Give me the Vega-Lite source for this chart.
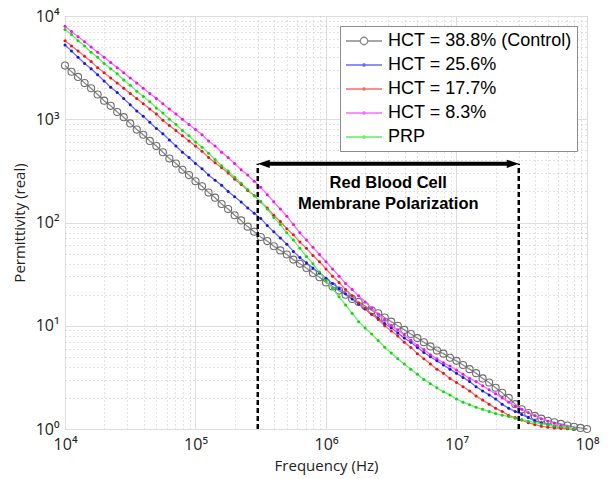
{
"$schema": "https://vega.github.io/schema/vega-lite/v6.json",
"width": 522, "height": 413,
"autosize": {"type": "none"},
"padding": {"left": 65, "top": 16, "right": 21, "bottom": 50},
"background": "white",
"config": {"view": {"stroke": "#8c8c8c", "strokeWidth": 1}, "font": "Open Sans"},
"datasets": {
"curves": [
{"s":"ctl","f":1e4,"e":3311},{"s":"ctl","f":1.122e4,"e":2884},{"s":"ctl","f":1.259e4,"e":2570},{"s":"ctl","f":1.413e4,"e":2239},{"s":"ctl","f":1.585e4,"e":1995},{"s":"ctl","f":1.778e4,"e":1738},{"s":"ctl","f":1.995e4,"e":1514},{"s":"ctl","f":2.239e4,"e":1349},{"s":"ctl","f":2.512e4,"e":1175},{"s":"ctl","f":2.818e4,"e":1047},
{"s":"ctl","f":3.162e4,"e":912},{"s":"ctl","f":3.548e4,"e":794},{"s":"ctl","f":3.981e4,"e":708},{"s":"ctl","f":4.467e4,"e":617},{"s":"ctl","f":5.012e4,"e":550},{"s":"ctl","f":5.623e4,"e":479},{"s":"ctl","f":6.31e4,"e":417},{"s":"ctl","f":7.079e4,"e":372},{"s":"ctl","f":7.943e4,"e":324},{"s":"ctl","f":8.913e4,"e":288},
{"s":"ctl","f":1e5,"e":251},{"s":"ctl","f":1.122e5,"e":224},{"s":"ctl","f":1.259e5,"e":195},{"s":"ctl","f":1.413e5,"e":174},{"s":"ctl","f":1.585e5,"e":151},{"s":"ctl","f":1.778e5,"e":135},{"s":"ctl","f":1.995e5,"e":117.5},{"s":"ctl","f":2.239e5,"e":104.7},{"s":"ctl","f":2.512e5,"e":91.2},{"s":"ctl","f":2.818e5,"e":81.3},
{"s":"ctl","f":3.162e5,"e":72.4},{"s":"ctl","f":3.548e5,"e":66.1},{"s":"ctl","f":3.981e5,"e":58.9},{"s":"ctl","f":4.467e5,"e":53.7},{"s":"ctl","f":5.012e5,"e":49.0},{"s":"ctl","f":5.623e5,"e":43.7},{"s":"ctl","f":6.31e5,"e":39.8},{"s":"ctl","f":7.079e5,"e":36.3},{"s":"ctl","f":7.943e5,"e":32.4},{"s":"ctl","f":8.913e5,"e":29.5},
{"s":"ctl","f":1e6,"e":26.3},{"s":"ctl","f":1.122e6,"e":24.0},{"s":"ctl","f":1.259e6,"e":21.9},{"s":"ctl","f":1.413e6,"e":19.95},{"s":"ctl","f":1.585e6,"e":18.2},{"s":"ctl","f":1.778e6,"e":17.0},{"s":"ctl","f":1.995e6,"e":15.5},{"s":"ctl","f":2.239e6,"e":14.1},{"s":"ctl","f":2.512e6,"e":13.2},{"s":"ctl","f":2.818e6,"e":12.0},
{"s":"ctl","f":3.162e6,"e":10.96},{"s":"ctl","f":3.548e6,"e":10.0},{"s":"ctl","f":3.981e6,"e":9.12},{"s":"ctl","f":4.467e6,"e":8.32},{"s":"ctl","f":5.012e6,"e":7.59},{"s":"ctl","f":5.623e6,"e":6.92},{"s":"ctl","f":6.31e6,"e":6.31},{"s":"ctl","f":7.079e6,"e":5.75},{"s":"ctl","f":7.943e6,"e":5.37},{"s":"ctl","f":8.913e6,"e":4.90},
{"s":"ctl","f":1e7,"e":4.57},{"s":"ctl","f":1.122e7,"e":4.17},{"s":"ctl","f":1.259e7,"e":3.80},{"s":"ctl","f":1.413e7,"e":3.47},{"s":"ctl","f":1.585e7,"e":3.09},{"s":"ctl","f":1.778e7,"e":2.82},{"s":"ctl","f":1.995e7,"e":2.51},{"s":"ctl","f":2.239e7,"e":2.24},{"s":"ctl","f":2.512e7,"e":2.00},{"s":"ctl","f":2.818e7,"e":1.74},
{"s":"ctl","f":3.162e7,"e":1.55},{"s":"ctl","f":3.548e7,"e":1.43},{"s":"ctl","f":3.981e7,"e":1.34},{"s":"ctl","f":4.467e7,"e":1.26},{"s":"ctl","f":5.012e7,"e":1.20},{"s":"ctl","f":5.623e7,"e":1.16},{"s":"ctl","f":6.31e7,"e":1.12},{"s":"ctl","f":7.079e7,"e":1.08},{"s":"ctl","f":7.943e7,"e":1.05},{"s":"ctl","f":8.913e7,"e":1.025},{"s":"ctl","f":1e8,"e":1.0},

{"s":"h256","f":1e4,"e":5248},{"s":"h256","f":1.122e4,"e":4571},{"s":"h256","f":1.259e4,"e":3981},{"s":"h256","f":1.413e4,"e":3467},{"s":"h256","f":1.585e4,"e":3090},{"s":"h256","f":1.778e4,"e":2692},{"s":"h256","f":1.995e4,"e":2344},{"s":"h256","f":2.239e4,"e":2042},{"s":"h256","f":2.512e4,"e":1820},{"s":"h256","f":2.818e4,"e":1585},
{"s":"h256","f":3.162e4,"e":1380},{"s":"h256","f":3.548e4,"e":1202},{"s":"h256","f":3.981e4,"e":1072},{"s":"h256","f":4.467e4,"e":933},{"s":"h256","f":5.012e4,"e":813},{"s":"h256","f":5.623e4,"e":724},{"s":"h256","f":6.31e4,"e":631},{"s":"h256","f":7.079e4,"e":550},{"s":"h256","f":7.943e4,"e":479},{"s":"h256","f":8.913e4,"e":427},
{"s":"h256","f":1e5,"e":372},{"s":"h256","f":1.122e5,"e":331},{"s":"h256","f":1.259e5,"e":288},{"s":"h256","f":1.413e5,"e":257},{"s":"h256","f":1.585e5,"e":229},{"s":"h256","f":1.778e5,"e":200},{"s":"h256","f":1.995e5,"e":178},{"s":"h256","f":2.239e5,"e":158},{"s":"h256","f":2.512e5,"e":138},{"s":"h256","f":2.818e5,"e":123},
{"s":"h256","f":3.162e5,"e":109.6},{"s":"h256","f":3.548e5,"e":93.3},{"s":"h256","f":3.981e5,"e":81.3},{"s":"h256","f":4.467e5,"e":70.8},{"s":"h256","f":5.012e5,"e":61.7},{"s":"h256","f":5.623e5,"e":52.5},{"s":"h256","f":6.31e5,"e":45.7},{"s":"h256","f":7.079e5,"e":40.7},{"s":"h256","f":7.943e5,"e":36.3},{"s":"h256","f":8.913e5,"e":32.4},
{"s":"h256","f":1e6,"e":28.8},{"s":"h256","f":1.122e6,"e":25.7},{"s":"h256","f":1.259e6,"e":22.9},{"s":"h256","f":1.413e6,"e":20.4},{"s":"h256","f":1.585e6,"e":18.2},{"s":"h256","f":1.778e6,"e":16.2},{"s":"h256","f":1.995e6,"e":14.5},{"s":"h256","f":2.239e6,"e":12.9},{"s":"h256","f":2.512e6,"e":11.75},{"s":"h256","f":2.818e6,"e":10.5},
{"s":"h256","f":3.162e6,"e":9.55},{"s":"h256","f":3.548e6,"e":8.51},{"s":"h256","f":3.981e6,"e":7.59},{"s":"h256","f":4.467e6,"e":6.92},{"s":"h256","f":5.012e6,"e":6.17},{"s":"h256","f":5.623e6,"e":5.50},{"s":"h256","f":6.31e6,"e":5.01},{"s":"h256","f":7.079e6,"e":4.57},{"s":"h256","f":7.943e6,"e":4.17},{"s":"h256","f":8.913e6,"e":3.80},
{"s":"h256","f":1e7,"e":3.47},{"s":"h256","f":1.122e7,"e":3.16},{"s":"h256","f":1.259e7,"e":2.88},{"s":"h256","f":1.413e7,"e":2.57},{"s":"h256","f":1.585e7,"e":2.34},{"s":"h256","f":1.778e7,"e":2.14},{"s":"h256","f":1.995e7,"e":1.95},{"s":"h256","f":2.239e7,"e":1.74},{"s":"h256","f":2.512e7,"e":1.585},{"s":"h256","f":2.818e7,"e":1.48},
{"s":"h256","f":3.162e7,"e":1.38},{"s":"h256","f":3.548e7,"e":1.29},{"s":"h256","f":3.981e7,"e":1.20},{"s":"h256","f":4.467e7,"e":1.15},{"s":"h256","f":5.012e7,"e":1.10},{"s":"h256","f":5.623e7,"e":1.06},{"s":"h256","f":6.31e7,"e":1.035},{"s":"h256","f":7.079e7,"e":1.016},{"s":"h256","f":7.943e7,"e":1.0},

{"s":"h177","f":1e4,"e":5754},{"s":"h177","f":1.122e4,"e":5129},{"s":"h177","f":1.259e4,"e":4571},{"s":"h177","f":1.413e4,"e":4074},{"s":"h177","f":1.585e4,"e":3631},{"s":"h177","f":1.778e4,"e":3162},{"s":"h177","f":1.995e4,"e":2818},{"s":"h177","f":2.239e4,"e":2512},{"s":"h177","f":2.512e4,"e":2239},{"s":"h177","f":2.818e4,"e":1995},
{"s":"h177","f":3.162e4,"e":1778},{"s":"h177","f":3.548e4,"e":1585},{"s":"h177","f":3.981e4,"e":1413},{"s":"h177","f":4.467e4,"e":1259},{"s":"h177","f":5.012e4,"e":1122},{"s":"h177","f":5.623e4,"e":977},{"s":"h177","f":6.31e4,"e":871},{"s":"h177","f":7.079e4,"e":776},{"s":"h177","f":7.943e4,"e":692},{"s":"h177","f":8.913e4,"e":617},
{"s":"h177","f":1e5,"e":550},{"s":"h177","f":1.122e5,"e":490},{"s":"h177","f":1.259e5,"e":427},{"s":"h177","f":1.413e5,"e":380},{"s":"h177","f":1.585e5,"e":339},{"s":"h177","f":1.778e5,"e":302},{"s":"h177","f":1.995e5,"e":263},{"s":"h177","f":2.239e5,"e":234},{"s":"h177","f":2.512e5,"e":204},{"s":"h177","f":2.818e5,"e":182},
{"s":"h177","f":3.162e5,"e":158.5},{"s":"h177","f":3.548e5,"e":138},{"s":"h177","f":3.981e5,"e":117.5},{"s":"h177","f":4.467e5,"e":102.3},{"s":"h177","f":5.012e5,"e":87.1},{"s":"h177","f":5.623e5,"e":75.9},{"s":"h177","f":6.31e5,"e":64.6},{"s":"h177","f":7.079e5,"e":56.2},{"s":"h177","f":7.943e5,"e":47.9},{"s":"h177","f":8.913e5,"e":41.7},
{"s":"h177","f":1e6,"e":35.5},{"s":"h177","f":1.122e6,"e":30.2},{"s":"h177","f":1.259e6,"e":26.3},{"s":"h177","f":1.413e6,"e":22.4},{"s":"h177","f":1.585e6,"e":19.5},{"s":"h177","f":1.778e6,"e":16.6},{"s":"h177","f":1.995e6,"e":14.8},{"s":"h177","f":2.239e6,"e":12.9},{"s":"h177","f":2.512e6,"e":11.5},{"s":"h177","f":2.818e6,"e":10.0},
{"s":"h177","f":3.162e6,"e":8.91},{"s":"h177","f":3.548e6,"e":7.94},{"s":"h177","f":3.981e6,"e":6.92},{"s":"h177","f":4.467e6,"e":6.17},{"s":"h177","f":5.012e6,"e":5.37},{"s":"h177","f":5.623e6,"e":4.79},{"s":"h177","f":6.31e6,"e":4.27},{"s":"h177","f":7.079e6,"e":3.80},{"s":"h177","f":7.943e6,"e":3.47},{"s":"h177","f":8.913e6,"e":3.09},
{"s":"h177","f":1e7,"e":2.82},{"s":"h177","f":1.122e7,"e":2.57},{"s":"h177","f":1.259e7,"e":2.34},{"s":"h177","f":1.413e7,"e":2.09},{"s":"h177","f":1.585e7,"e":1.905},{"s":"h177","f":1.778e7,"e":1.74},{"s":"h177","f":1.995e7,"e":1.585},{"s":"h177","f":2.239e7,"e":1.48},{"s":"h177","f":2.512e7,"e":1.35},{"s":"h177","f":2.818e7,"e":1.29},
{"s":"h177","f":3.162e7,"e":1.22},{"s":"h177","f":3.548e7,"e":1.15},{"s":"h177","f":3.981e7,"e":1.10},{"s":"h177","f":4.467e7,"e":1.066},{"s":"h177","f":5.012e7,"e":1.042},{"s":"h177","f":5.623e7,"e":1.023},{"s":"h177","f":6.31e7,"e":1.012},{"s":"h177","f":7.079e7,"e":1.005},{"s":"h177","f":7.943e7,"e":1.0},

{"s":"h83","f":1e4,"e":7943},{"s":"h83","f":1.122e4,"e":7079},{"s":"h83","f":1.259e4,"e":6310},{"s":"h83","f":1.413e4,"e":5623},{"s":"h83","f":1.585e4,"e":5012},{"s":"h83","f":1.778e4,"e":4467},{"s":"h83","f":1.995e4,"e":3981},{"s":"h83","f":2.239e4,"e":3548},{"s":"h83","f":2.512e4,"e":3162},{"s":"h83","f":2.818e4,"e":2818},
{"s":"h83","f":3.162e4,"e":2512},{"s":"h83","f":3.548e4,"e":2239},{"s":"h83","f":3.981e4,"e":1995},{"s":"h83","f":4.467e4,"e":1778},{"s":"h83","f":5.012e4,"e":1585},{"s":"h83","f":5.623e4,"e":1413},{"s":"h83","f":6.31e4,"e":1259},{"s":"h83","f":7.079e4,"e":1122},{"s":"h83","f":7.943e4,"e":1000},{"s":"h83","f":8.913e4,"e":891},
{"s":"h83","f":1e5,"e":794},{"s":"h83","f":1.122e5,"e":708},{"s":"h83","f":1.259e5,"e":617},{"s":"h83","f":1.413e5,"e":550},{"s":"h83","f":1.585e5,"e":479},{"s":"h83","f":1.778e5,"e":427},{"s":"h83","f":1.995e5,"e":372},{"s":"h83","f":2.239e5,"e":324},{"s":"h83","f":2.512e5,"e":288},{"s":"h83","f":2.818e5,"e":251},
{"s":"h83","f":3.162e5,"e":219},{"s":"h83","f":3.548e5,"e":186},{"s":"h83","f":3.981e5,"e":158.5},{"s":"h83","f":4.467e5,"e":135},{"s":"h83","f":5.012e5,"e":115},{"s":"h83","f":5.623e5,"e":95.5},{"s":"h83","f":6.31e5,"e":79.4},{"s":"h83","f":7.079e5,"e":67.6},{"s":"h83","f":7.943e5,"e":57.5},{"s":"h83","f":8.913e5,"e":49.0},
{"s":"h83","f":1e6,"e":41.7},{"s":"h83","f":1.122e6,"e":35.5},{"s":"h83","f":1.259e6,"e":30.2},{"s":"h83","f":1.413e6,"e":25.7},{"s":"h83","f":1.585e6,"e":22.4},{"s":"h83","f":1.778e6,"e":19.5},{"s":"h83","f":1.995e6,"e":17.0},{"s":"h83","f":2.239e6,"e":14.8},{"s":"h83","f":2.512e6,"e":12.9},{"s":"h83","f":2.818e6,"e":11.5},
{"s":"h83","f":3.162e6,"e":10.0},{"s":"h83","f":3.548e6,"e":9.12},{"s":"h83","f":3.981e6,"e":8.13},{"s":"h83","f":4.467e6,"e":7.24},{"s":"h83","f":5.012e6,"e":6.46},{"s":"h83","f":5.623e6,"e":5.89},{"s":"h83","f":6.31e6,"e":5.25},{"s":"h83","f":7.079e6,"e":4.79},{"s":"h83","f":7.943e6,"e":4.37},{"s":"h83","f":8.913e6,"e":4.07},
{"s":"h83","f":1e7,"e":3.72},{"s":"h83","f":1.122e7,"e":3.39},{"s":"h83","f":1.259e7,"e":3.09},{"s":"h83","f":1.413e7,"e":2.88},{"s":"h83","f":1.585e7,"e":2.63},{"s":"h83","f":1.778e7,"e":2.40},{"s":"h83","f":1.995e7,"e":2.19},{"s":"h83","f":2.239e7,"e":2.00},{"s":"h83","f":2.512e7,"e":1.82},{"s":"h83","f":2.818e7,"e":1.66},
{"s":"h83","f":3.162e7,"e":1.55},{"s":"h83","f":3.548e7,"e":1.445},{"s":"h83","f":3.981e7,"e":1.35},{"s":"h83","f":4.467e7,"e":1.26},{"s":"h83","f":5.012e7,"e":1.19},{"s":"h83","f":5.623e7,"e":1.135},{"s":"h83","f":6.31e7,"e":1.084},{"s":"h83","f":7.079e7,"e":1.04},{"s":"h83","f":7.943e7,"e":1.0},

{"s":"prp","f":1e4,"e":7413},{"s":"prp","f":1.122e4,"e":6607},{"s":"prp","f":1.259e4,"e":5754},{"s":"prp","f":1.413e4,"e":5129},{"s":"prp","f":1.585e4,"e":4467},{"s":"prp","f":1.778e4,"e":3981},{"s":"prp","f":1.995e4,"e":3467},{"s":"prp","f":2.239e4,"e":3090},{"s":"prp","f":2.512e4,"e":2754},{"s":"prp","f":2.818e4,"e":2399},
{"s":"prp","f":3.162e4,"e":2138},{"s":"prp","f":3.548e4,"e":1862},{"s":"prp","f":3.981e4,"e":1660},{"s":"prp","f":4.467e4,"e":1479},{"s":"prp","f":5.012e4,"e":1288},{"s":"prp","f":5.623e4,"e":1148},{"s":"prp","f":6.31e4,"e":1000},{"s":"prp","f":7.079e4,"e":891},{"s":"prp","f":7.943e4,"e":776},{"s":"prp","f":8.913e4,"e":692},
{"s":"prp","f":1e5,"e":603},{"s":"prp","f":1.122e5,"e":537},{"s":"prp","f":1.259e5,"e":468},{"s":"prp","f":1.413e5,"e":407},{"s":"prp","f":1.585e5,"e":355},{"s":"prp","f":1.778e5,"e":316},{"s":"prp","f":1.995e5,"e":275},{"s":"prp","f":2.239e5,"e":240},{"s":"prp","f":2.512e5,"e":209},{"s":"prp","f":2.818e5,"e":182},
{"s":"prp","f":3.162e5,"e":158.5},{"s":"prp","f":3.548e5,"e":135},{"s":"prp","f":3.981e5,"e":112},{"s":"prp","f":4.467e5,"e":95.5},{"s":"prp","f":5.012e5,"e":79.4},{"s":"prp","f":5.623e5,"e":67.6},{"s":"prp","f":6.31e5,"e":56.2},{"s":"prp","f":7.079e5,"e":46.8},{"s":"prp","f":7.943e5,"e":39.8},{"s":"prp","f":8.913e5,"e":33.1},
{"s":"prp","f":1e6,"e":27.5},{"s":"prp","f":1.122e6,"e":22.9},{"s":"prp","f":1.259e6,"e":19.05},{"s":"prp","f":1.413e6,"e":15.85},{"s":"prp","f":1.585e6,"e":13.2},{"s":"prp","f":1.778e6,"e":10.96},{"s":"prp","f":1.995e6,"e":9.5},{"s":"prp","f":2.239e6,"e":8.3},{"s":"prp","f":2.512e6,"e":7.2},{"s":"prp","f":2.818e6,"e":6.2},
{"s":"prp","f":3.162e6,"e":5.45},{"s":"prp","f":3.548e6,"e":4.79},{"s":"prp","f":3.981e6,"e":4.27},{"s":"prp","f":4.467e6,"e":3.80},{"s":"prp","f":5.012e6,"e":3.39},{"s":"prp","f":5.623e6,"e":3.02},{"s":"prp","f":6.31e6,"e":2.75},{"s":"prp","f":7.079e6,"e":2.51},{"s":"prp","f":7.943e6,"e":2.29},{"s":"prp","f":8.913e6,"e":2.14},
{"s":"prp","f":1e7,"e":1.95},{"s":"prp","f":1.122e7,"e":1.82},{"s":"prp","f":1.259e7,"e":1.72},{"s":"prp","f":1.413e7,"e":1.62},{"s":"prp","f":1.585e7,"e":1.55},{"s":"prp","f":1.778e7,"e":1.48},{"s":"prp","f":1.995e7,"e":1.41},{"s":"prp","f":2.239e7,"e":1.36},{"s":"prp","f":2.512e7,"e":1.32},{"s":"prp","f":2.818e7,"e":1.27},
{"s":"prp","f":3.162e7,"e":1.23},{"s":"prp","f":3.548e7,"e":1.19},{"s":"prp","f":3.981e7,"e":1.15},{"s":"prp","f":4.467e7,"e":1.12},{"s":"prp","f":5.012e7,"e":1.10},{"s":"prp","f":5.623e7,"e":1.07},{"s":"prp","f":6.31e7,"e":1.047},{"s":"prp","f":7.079e7,"e":1.023},{"s":"prp","f":7.943e7,"e":1.0}
]
},
"encoding": {
  "x": {"field": "f", "type": "quantitative",
    "scale": {"type": "log", "domain": [10000, 100000000], "nice": false},
    "axis": {"title": "Frequency (Hz)",
      "values": [10000,20000,30000,40000,50000,60000,70000,80000,90000,100000,200000,300000,400000,500000,600000,700000,800000,900000,1000000,2000000,3000000,4000000,5000000,6000000,7000000,8000000,9000000,10000000,20000000,30000000,40000000,50000000,60000000,70000000,80000000,90000000,100000000],
      "labelExpr": "datum.value == 10000 ? '10⁴' : datum.value == 100000 ? '10⁵' : datum.value == 1000000 ? '10⁶' : datum.value == 10000000 ? '10⁷' : datum.value == 100000000 ? '10⁸' : ''",
      "labelFlush": false, "labelOverlap": false, "domain": false, "ticks": false,
      "labelFont": "Open Sans", "labelFontSize": 16, "labelColor": "#222", "labelPadding": 7,
      "titleFont": "Open Sans", "titleFontSize": 15, "titleFontWeight": "normal", "titleColor": "#222", "titlePadding": 6,
      "gridColor": {"condition": {"test": "indexof([10000,100000,1000000,10000000,100000000], datum.value) >= 0", "value": "#dddddd"}, "value": "#c4c4c4"},
      "gridDash": {"condition": {"test": "indexof([10000,100000,1000000,10000000,100000000], datum.value) >= 0", "value": []}, "value": [1, 3]}
    }},
  "y": {"field": "e", "type": "quantitative",
    "scale": {"type": "log", "domain": [1, 10000], "nice": false},
    "axis": {"title": "Permittivity (real)",
      "values": [1,2,3,4,5,6,7,8,9,10,20,30,40,50,60,70,80,90,100,200,300,400,500,600,700,800,900,1000,2000,3000,4000,5000,6000,7000,8000,9000,10000],
      "labelExpr": "datum.value == 1 ? '10⁰' : datum.value == 10 ? '10¹' : datum.value == 100 ? '10²' : datum.value == 1000 ? '10³' : datum.value == 10000 ? '10⁴' : ''",
      "labelFlush": false, "labelOverlap": false, "domain": false, "ticks": false,
      "labelFont": "Open Sans", "labelFontSize": 16, "labelColor": "#222", "labelPadding": 6,
      "titleFont": "Open Sans", "titleFontSize": 15, "titleFontWeight": "normal", "titleColor": "#222", "titlePadding": 8,
      "gridColor": {"condition": {"test": "indexof([1,10,100,1000,10000], datum.value) >= 0", "value": "#dddddd"}, "value": "#c4c4c4"},
      "gridDash": {"condition": {"test": "indexof([1,10,100,1000,10000], datum.value) >= 0", "value": []}, "value": [1, 3]}
    }}
},
"layer": [
  {"data": {"name": "curves"},
   "transform": [{"filter": "datum.s === 'ctl'"}],
   "mark": {"type": "line", "strokeWidth": 1.3},
   "encoding": {"color": {"field": "s", "type": "nominal",
      "scale": {"domain": ["ctl","h256","h177","h83","prp"], "range": ["#8a8a8a","#6a6aff","#ff6a6a","#ff6aff","#66ee66"]},
      "legend": {"title": null, "orient": "top-right", "offset": 10, "padding": 5,
        "strokeColor": "#8c8c8c", "fillColor": "white",
        "labelExpr": "datum.value === 'ctl' ? 'HCT = 38.8% (Control)' : datum.value === 'h256' ? 'HCT = 25.6%' : datum.value === 'h177' ? 'HCT = 17.7%' : datum.value === 'h83' ? 'HCT = 8.3%' : 'PRP'",
        "labelFont": "Liberation Sans", "labelFontSize": 18, "labelColor": "black", "labelOffset": 23, "labelLimit": 0,
        "symbolSize": 324, "symbolStrokeWidth": 1.4, "rowPadding": 5,
        "symbolType": "M-1,0H3",
        "encode": {"symbols": {"update": {
          "shape": {"signal": "datum.value === 'ctl' ? 'M-1,0H0.59M1.41,0H3M0.59,0A0.41,0.41 0 1,1 1.41,0A0.41,0.41 0 1,1 0.59,0' : 'M-1,0H3M0.87,0A0.13,0.13 0 1,1 1.13,0A0.13,0.13 0 1,1 0.87,0'"},
          "fill": {"signal": "datum.value === 'ctl' ? 'transparent' : datum.value === 'h256' ? '#1414e6' : datum.value === 'h177' ? '#e61414' : datum.value === 'h83' ? '#e614e6' : '#14d214'"}
        }}}
      }}}},
  {"data": {"name": "curves"},
   "transform": [{"filter": "datum.s === 'ctl'"}],
   "mark": {"type": "point", "filled": false, "size": 50, "strokeWidth": 1.1, "color": "#6e6e6e", "opacity": 1}},
  {"data": {"name": "curves"},
   "transform": [{"filter": "datum.s !== 'ctl'"}],
   "mark": {"type": "line", "strokeWidth": 1.3},
   "encoding": {"color": {"field": "s", "type": "nominal"}}},
  {"data": {"name": "curves"},
   "transform": [{"filter": "datum.s !== 'ctl'"}],
   "mark": {"type": "point", "filled": true, "size": 9, "strokeWidth": 0, "opacity": 1},
   "encoding": {"fill": {"field": "s", "type": "nominal",
      "scale": {"domain": ["h256","h177","h83","prp"], "range": ["#1414e6","#e61414","#e614e6","#14d214"]},
      "legend": null}}},
  {"data": {"values": [{"f": 300000, "e": 1, "e2": 370}, {"f": 30000000, "e": 1, "e2": 370}]},
   "mark": {"type": "rule", "color": "black", "strokeWidth": 2.5, "strokeDash": [5, 3]},
   "encoding": {"y2": {"field": "e2"}}},
  {"data": {"values": [{"f": 300000, "f2": 30000000, "e": 370}]},
   "mark": {"type": "rule", "color": "black", "strokeWidth": 4, "xOffset": 8, "x2Offset": -8},
   "encoding": {"x2": {"field": "f2"}}},
  {"data": {"values": [{"f": 300000, "e": 370}]},
   "mark": {"type": "point", "shape": "M0,0L2,-0.7L2,0.7Z", "filled": true, "size": 144, "color": "black", "opacity": 1, "strokeWidth": 0}},
  {"data": {"values": [{"f": 30000000, "e": 370}]},
   "mark": {"type": "point", "shape": "M0,0L-2,-0.7L-2,0.7Z", "filled": true, "size": 144, "color": "black", "opacity": 1, "strokeWidth": 0}},
  {"data": {"values": [{"f": 3000000, "e": 240, "t": "Red Blood Cell"}, {"f": 3000000, "e": 150, "t": "Membrane Polarization"}]},
   "mark": {"type": "text", "font": "Liberation Sans", "fontWeight": "bold", "fontSize": 16.5, "color": "black", "align": "center", "baseline": "middle"},
   "encoding": {"text": {"field": "t"}}}
]
}
